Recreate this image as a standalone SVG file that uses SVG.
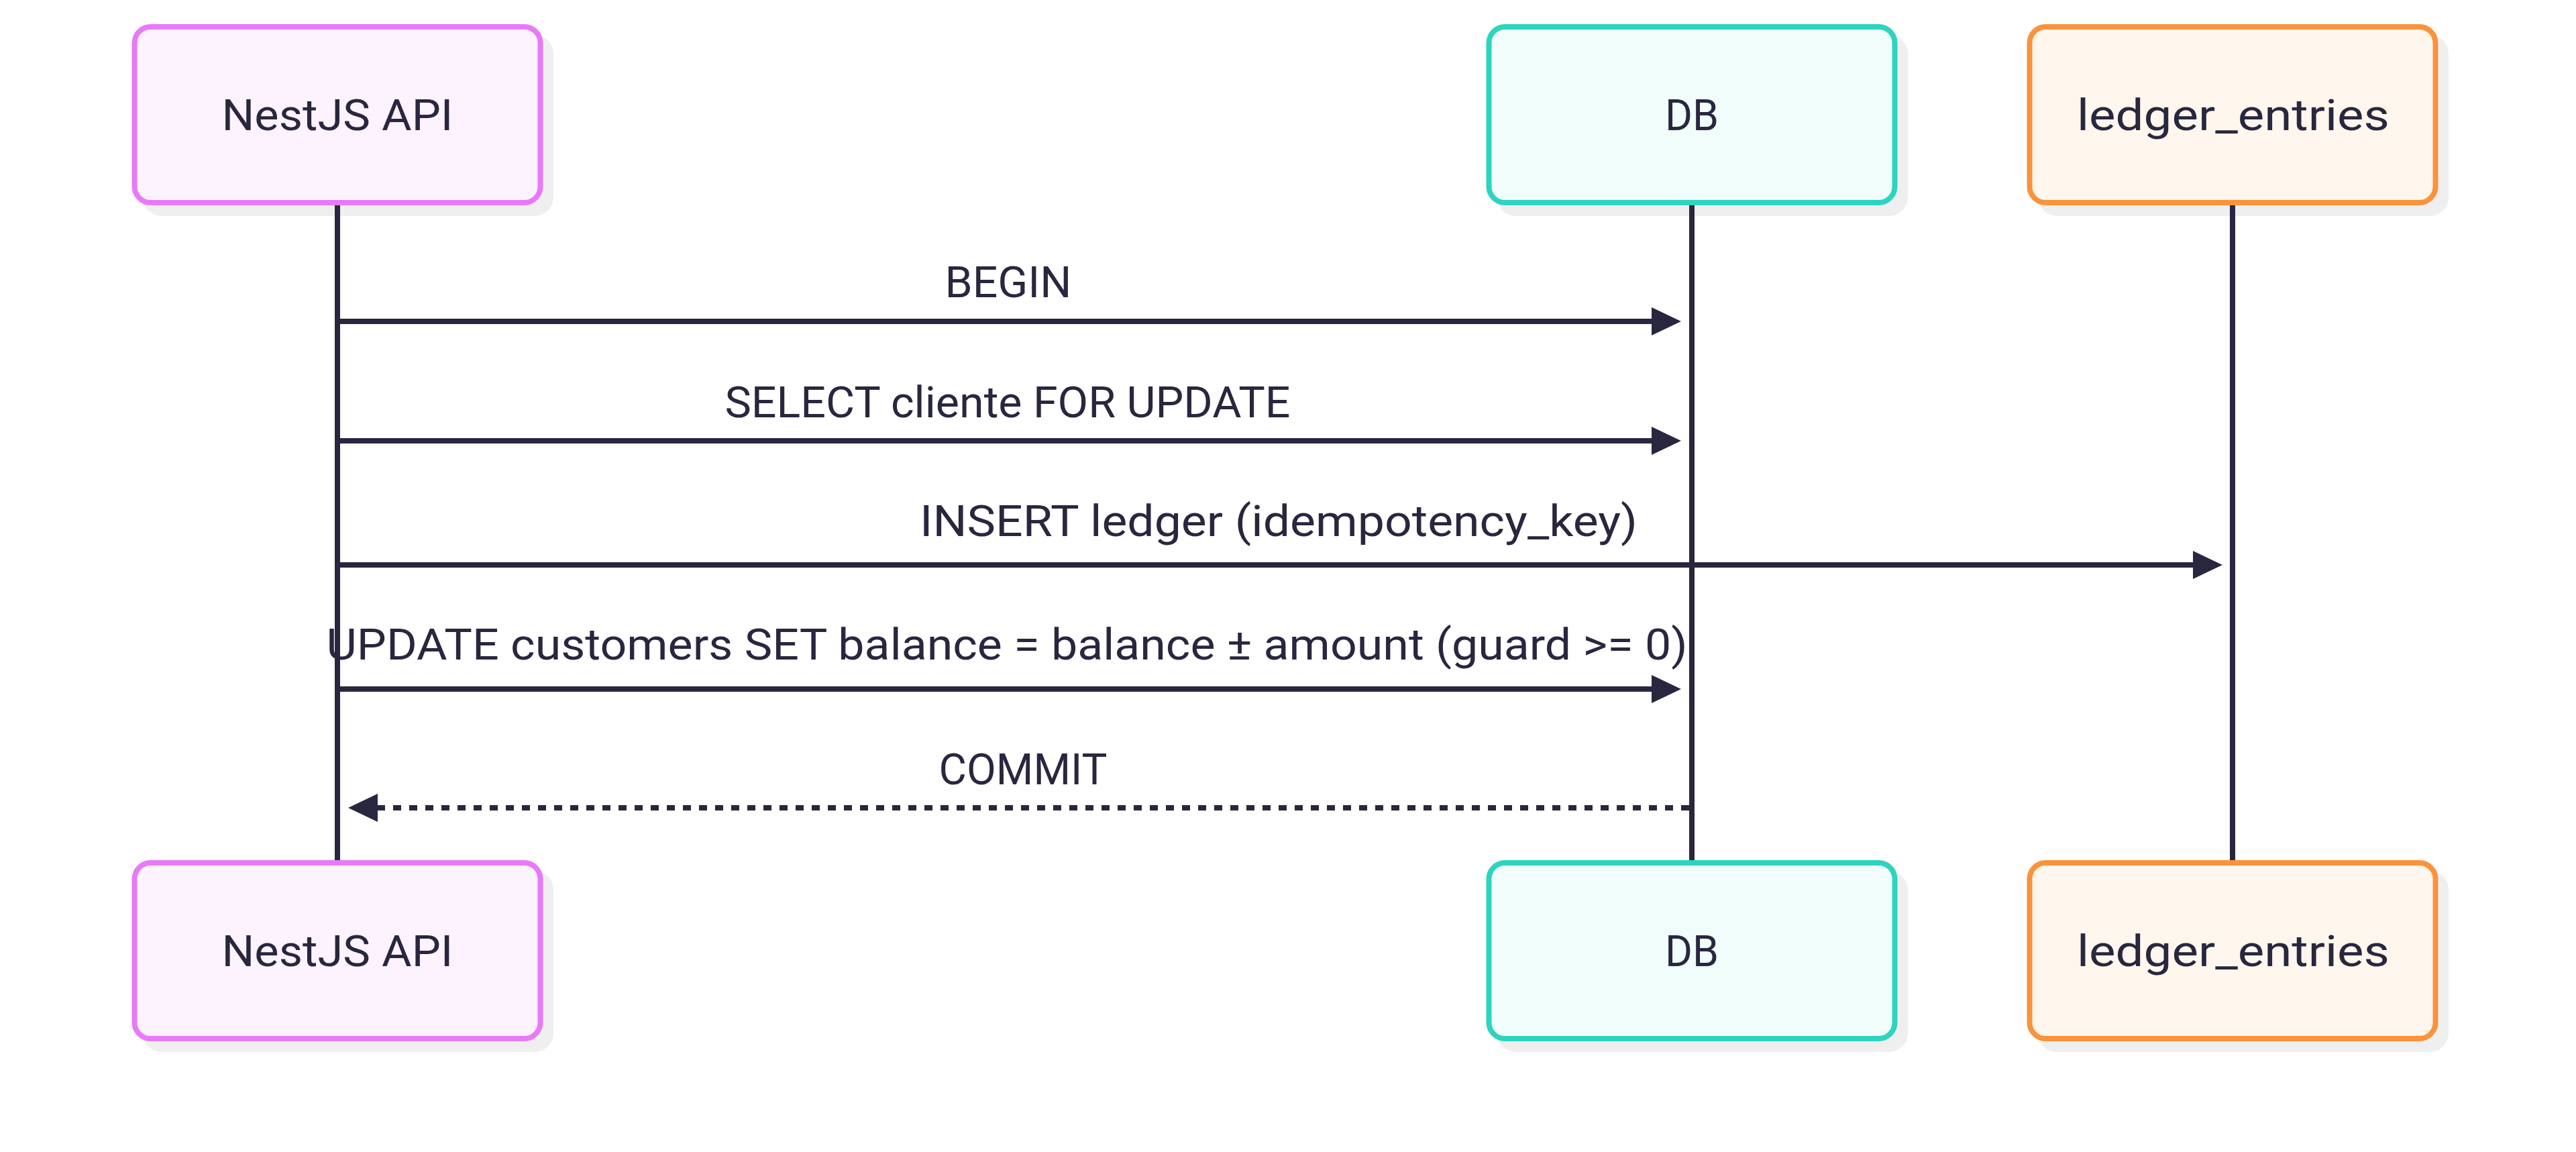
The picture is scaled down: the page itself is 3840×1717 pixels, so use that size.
<svg xmlns="http://www.w3.org/2000/svg" width="3840" height="1717" viewBox="0 0 3840 1717">
<style>
  .shadow { fill: #efefef; }
  .box { stroke-width: 8; }
  .api { fill: #fdf3fe; stroke: #e879f9; }
  .db { fill: #f0fdfa; stroke: #2dd4bf; }
  .led { fill: #fff7ed; stroke: #fb923c; }
  .lbl { font-family: Roboto, "Liberation Sans", sans-serif; font-size: 64px; fill: #29273f; text-anchor: middle; }
  .life { stroke: #29273f; stroke-width: 8; fill: none; }
  .msg { stroke: #29273f; stroke-width: 8; fill: none; }
  .dash { stroke-dasharray: 12 12; }
</style>
<defs>
  <marker id="arrow" markerUnits="userSpaceOnUse" markerWidth="44" markerHeight="42" refX="1" refY="21" orient="auto" viewBox="0 0 44 42">
    <path d="M0,0 L44,21 L0,42 z" fill="#29273f"/>
  </marker>
</defs>
<rect width="3840" height="1717" fill="#ffffff"/>

<g id="node-api-top">
  <rect class="shadow" x="213" y="52" width="612" height="270" rx="28"/>
  <rect class="box api" x="200.5" y="40" width="605" height="262" rx="24"/>
  <text class="lbl" x="503" y="194" textLength="345" lengthAdjust="spacingAndGlyphs">NestJS API</text>
</g>
<g id="node-db-top">
  <rect class="shadow" x="2232" y="52" width="612" height="270" rx="28"/>
  <rect class="box db" x="2219.5" y="40" width="605" height="262" rx="24"/>
  <text class="lbl" x="2522" y="194" textLength="80" lengthAdjust="spacingAndGlyphs">DB</text>
</g>
<g id="node-ledger-top">
  <rect class="shadow" x="3038" y="52" width="612" height="270" rx="28"/>
  <rect class="box led" x="3025.5" y="40" width="605" height="262" rx="24"/>
  <text class="lbl" x="3329" y="194" textLength="466" lengthAdjust="spacingAndGlyphs">ledger_entries</text>
</g>

<g id="node-api-bottom">
  <rect class="shadow" x="213" y="1298" width="612" height="270" rx="28"/>
  <rect class="box api" x="200.5" y="1286" width="605" height="262" rx="24"/>
  <text class="lbl" x="503" y="1440" textLength="345" lengthAdjust="spacingAndGlyphs">NestJS API</text>
</g>
<g id="node-db-bottom">
  <rect class="shadow" x="2232" y="1298" width="612" height="270" rx="28"/>
  <rect class="box db" x="2219.5" y="1286" width="605" height="262" rx="24"/>
  <text class="lbl" x="2522" y="1440" textLength="80" lengthAdjust="spacingAndGlyphs">DB</text>
</g>
<g id="node-ledger-bottom">
  <rect class="shadow" x="3038" y="1298" width="612" height="270" rx="28"/>
  <rect class="box led" x="3025.5" y="1286" width="605" height="262" rx="24"/>
  <text class="lbl" x="3329" y="1440" textLength="466" lengthAdjust="spacingAndGlyphs">ledger_entries</text>
</g>

<g id="connectors">
  <line class="life" x1="503" y1="306" x2="503" y2="1282"/>
  <line class="life" x1="2522" y1="306" x2="2522" y2="1282"/>
  <line class="life" x1="3328" y1="306" x2="3328" y2="1282"/>

  <line class="msg" x1="503" y1="479" x2="2463" y2="479" marker-end="url(#arrow)"/>
  <text class="lbl" x="1503" y="443" textLength="189" lengthAdjust="spacingAndGlyphs">BEGIN</text>

  <line class="msg" x1="503" y1="657" x2="2463" y2="657" marker-end="url(#arrow)"/>
  <text class="lbl" x="1502" y="622" textLength="843" lengthAdjust="spacingAndGlyphs">SELECT cliente FOR UPDATE</text>

  <line class="msg" x1="503" y1="842" x2="3270" y2="842" marker-end="url(#arrow)"/>
  <text class="lbl" x="1906" y="799" textLength="1070" lengthAdjust="spacingAndGlyphs">INSERT ledger (idempotency_key)</text>

  <line class="msg" x1="503" y1="1027" x2="2463" y2="1027" marker-end="url(#arrow)"/>
  <text class="lbl" x="1501" y="983" textLength="2029" lengthAdjust="spacingAndGlyphs">UPDATE customers SET balance = balance ± amount (guard &gt;= 0)</text>

  <line class="msg dash" x1="2518" y1="1204" x2="562" y2="1204" marker-end="url(#arrow)"/>
  <text class="lbl" x="1525" y="1169" textLength="251" lengthAdjust="spacingAndGlyphs">COMMIT</text>
</g>
</svg>
